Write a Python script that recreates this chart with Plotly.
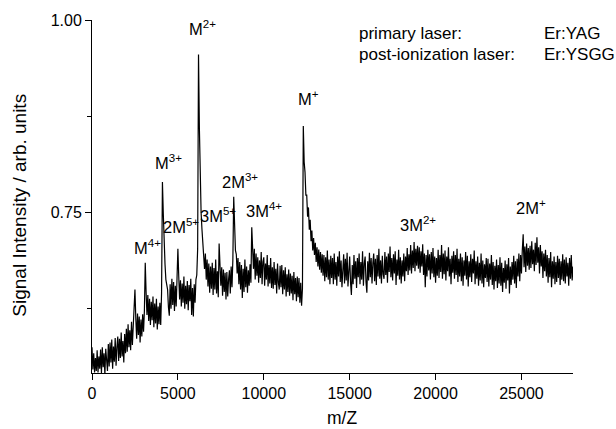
import plotly.graph_objects as go

# m/Z sampling: start and step of the spectrum
mz_start = 0
mz_step = 50

# Signal intensity (arb. units), one value every 50 m/Z from 0 to 28000
intensity = [
    0.574, 0.545, 0.566, 0.541, 0.560, 0.543, 0.570, 0.541, 0.562, 0.546,   # 0
    0.571, 0.540, 0.574, 0.548, 0.566, 0.538, 0.572, 0.551, 0.543, 0.578,   # 500
    0.549, 0.580, 0.554, 0.584, 0.546, 0.575, 0.555, 0.586, 0.550, 0.574,   # 1000
    0.588, 0.556, 0.585, 0.560, 0.593, 0.562, 0.582, 0.554, 0.591, 0.566,   # 1500
    0.598, 0.568, 0.604, 0.574, 0.596, 0.570, 0.607, 0.577, 0.602, 0.632,   # 2000
    0.649, 0.611, 0.585, 0.618, 0.590, 0.614, 0.580, 0.610, 0.588, 0.617,   # 2500
    0.594, 0.621, 0.684, 0.645, 0.616, 0.642, 0.608, 0.637, 0.603, 0.633,   # 3000
    0.609, 0.640, 0.600, 0.631, 0.605, 0.637, 0.597, 0.627, 0.604, 0.632,   # 3500
    0.603, 0.645, 0.789, 0.748, 0.700, 0.682, 0.662, 0.654, 0.649, 0.626,   # 4000
    0.615, 0.656, 0.624, 0.663, 0.629, 0.659, 0.621, 0.654, 0.627, 0.664,   # 4500
    0.702, 0.666, 0.636, 0.661, 0.627, 0.657, 0.632, 0.666, 0.624, 0.654,   # 5000
    0.630, 0.660, 0.622, 0.655, 0.634, 0.663, 0.616, 0.651, 0.614, 0.656,   # 5500
    0.632, 0.662, 0.668, 0.702, 0.955, 0.860, 0.790, 0.750, 0.728, 0.705,   # 6000
    0.700, 0.676, 0.696, 0.662, 0.688, 0.653, 0.683, 0.645, 0.679, 0.650,   # 6500
    0.684, 0.642, 0.677, 0.649, 0.688, 0.644, 0.673, 0.639, 0.709, 0.682,   # 7000
    0.654, 0.678, 0.641, 0.675, 0.646, 0.671, 0.636, 0.672, 0.640, 0.662,   # 7500
    0.674, 0.644, 0.679, 0.652, 0.688, 0.770, 0.732, 0.700, 0.695, 0.670,   # 8000
    0.690, 0.656, 0.685, 0.649, 0.681, 0.638, 0.676, 0.646, 0.688, 0.652,   # 8500
    0.679, 0.645, 0.674, 0.654, 0.682, 0.658, 0.730, 0.700, 0.676, 0.702,   # 9000
    0.662, 0.696, 0.667, 0.691, 0.658, 0.687, 0.664, 0.698, 0.656, 0.685,   # 9500
    0.691, 0.654, 0.683, 0.662, 0.694, 0.653, 0.681, 0.657, 0.690, 0.651,   # 10000
    0.678, 0.650, 0.685, 0.655, 0.676, 0.644, 0.683, 0.658, 0.649, 0.680,   # 10500
    0.652, 0.681, 0.643, 0.674, 0.649, 0.678, 0.640, 0.669, 0.646, 0.675,   # 11000
    0.641, 0.670, 0.644, 0.667, 0.635, 0.672, 0.643, 0.664, 0.634, 0.666,   # 11500
    0.639, 0.664, 0.632, 0.658, 0.628, 0.650, 0.862, 0.815, 0.802, 0.772,   # 12000
    0.772, 0.744, 0.756, 0.727, 0.740, 0.712, 0.726, 0.700, 0.716, 0.694,   # 12500
    0.710, 0.685, 0.704, 0.679, 0.701, 0.675, 0.698, 0.671, 0.695, 0.667,   # 13000
    0.694, 0.660, 0.691, 0.665, 0.700, 0.662, 0.688, 0.656, 0.693, 0.664,   # 13500
    0.690, 0.656, 0.696, 0.662, 0.685, 0.654, 0.692, 0.666, 0.699, 0.659,   # 14000
    0.687, 0.652, 0.682, 0.695, 0.657, 0.689, 0.661, 0.697, 0.653, 0.684,   # 14500
    0.692, 0.658, 0.642, 0.681, 0.656, 0.694, 0.663, 0.686, 0.651, 0.690,   # 15000
    0.665, 0.696, 0.656, 0.685, 0.662, 0.699, 0.654, 0.683, 0.692, 0.659,   # 15500
    0.645, 0.686, 0.661, 0.697, 0.665, 0.690, 0.657, 0.684, 0.696, 0.660,   # 16000
    0.689, 0.655, 0.694, 0.666, 0.702, 0.663, 0.687, 0.657, 0.693, 0.669,   # 16500
    0.663, 0.698, 0.668, 0.692, 0.658, 0.696, 0.672, 0.705, 0.665, 0.690,   # 17000
    0.661, 0.695, 0.670, 0.699, 0.655, 0.688, 0.667, 0.701, 0.662, 0.691,   # 17500
    0.657, 0.687, 0.666, 0.696, 0.660, 0.692, 0.673, 0.703, 0.668, 0.695,   # 18000
    0.674, 0.707, 0.670, 0.700, 0.677, 0.711, 0.673, 0.702, 0.680, 0.706,   # 18500
    0.676, 0.704, 0.671, 0.699, 0.679, 0.708, 0.668, 0.696, 0.652, 0.694,   # 19000
    0.666, 0.701, 0.674, 0.695, 0.662, 0.698, 0.670, 0.703, 0.665, 0.692,   # 19500
    0.658, 0.690, 0.667, 0.701, 0.664, 0.694, 0.672, 0.707, 0.663, 0.696,   # 20000
    0.669, 0.700, 0.661, 0.692, 0.673, 0.704, 0.666, 0.689, 0.656, 0.693,   # 20500
    0.671, 0.699, 0.663, 0.694, 0.668, 0.702, 0.659, 0.689, 0.666, 0.696,   # 21000
    0.660, 0.691, 0.654, 0.687, 0.667, 0.698, 0.662, 0.693, 0.653, 0.686,   # 21500
    0.665, 0.695, 0.659, 0.689, 0.670, 0.700, 0.656, 0.686, 0.663, 0.692,   # 22000
    0.654, 0.684, 0.661, 0.696, 0.657, 0.687, 0.652, 0.682, 0.664, 0.690,   # 22500
    0.659, 0.689, 0.653, 0.683, 0.662, 0.694, 0.655, 0.685, 0.649, 0.680,   # 23000
    0.660, 0.688, 0.651, 0.681, 0.657, 0.691, 0.654, 0.684, 0.646, 0.677,   # 23500
    0.658, 0.687, 0.650, 0.682, 0.661, 0.690, 0.644, 0.679, 0.655, 0.685,   # 24000
    0.662, 0.693, 0.657, 0.686, 0.651, 0.689, 0.666, 0.696, 0.660, 0.694,   # 24500
    0.670, 0.701, 0.721, 0.678, 0.705, 0.672, 0.709, 0.680, 0.703, 0.675,   # 25000
    0.706, 0.677, 0.712, 0.682, 0.701, 0.673, 0.710, 0.681, 0.717, 0.684,   # 25500
    0.704, 0.670, 0.707, 0.679, 0.699, 0.664, 0.696, 0.673, 0.701, 0.666,   # 26000
    0.694, 0.658, 0.690, 0.665, 0.698, 0.652, 0.686, 0.663, 0.692, 0.656,   # 26500
    0.685, 0.659, 0.693, 0.664, 0.689, 0.655, 0.686, 0.662, 0.695, 0.660,   # 27000
    0.688, 0.657, 0.691, 0.666, 0.684, 0.654, 0.690, 0.663, 0.694, 0.661,   # 27500
    0.679,                                                                  # 28000
]

# Peak labels and their positions (m/Z, intensity)
peak_labels = ["M<sup>4+</sup>", "M<sup>3+</sup>", "2M<sup>5+</sup>", "M<sup>2+</sup>",
               "3M<sup>5+</sup>", "2M<sup>3+</sup>", "3M<sup>4+</sup>", "M<sup>+</sup>",
               "3M<sup>2+</sup>", "2M<sup>+</sup>"]
peak_label_mz = [3250, 4470, 5170, 6450, 7320, 8600, 10000, 12610, 18950, 25580]
peak_label_y = [0.705, 0.815, 0.732, 0.990, 0.746, 0.791, 0.752, 0.898, 0.734, 0.756]

info_labels = ["primary laser:", "post-ionization laser:"]
info_values = ["Er:YAG", "Er:YSGG"]

x_ticks = [0, 5000, 10000, 15000, 20000, 25000]
y_ticks = [0.75, 1.00]
y_minor_ticks = [0.625, 0.875]

x_title = "m/Z"
y_title = "Signal Intensity / arb. units"

FONT = "Liberation Sans, Arial, sans-serif"

fig = go.Figure()
fig.add_trace(go.Scatter(
    x0=mz_start, dx=mz_step, y=intensity,
    mode="lines", line=dict(color="black", width=1.2),
    showlegend=False,
))

for t, xm, ym in zip(peak_labels, peak_label_mz, peak_label_y):
    fig.add_annotation(x=xm, y=ym, text=t, showarrow=False,
                       xanchor="center", yanchor="middle",
                       font=dict(family=FONT, size=16.5, color="black"))

for i, (lab, val) in enumerate(zip(info_labels, info_values)):
    yy = 0.982 - i * 0.027
    fig.add_annotation(x=15400, y=yy, text=lab, showarrow=False,
                       xanchor="left", yanchor="middle",
                       font=dict(family=FONT, size=17, color="black"))
    fig.add_annotation(x=26220, y=yy, text=val, showarrow=False,
                       xanchor="left", yanchor="middle",
                       font=dict(family=FONT, size=17, color="black"))

# axis titles
fig.add_annotation(xref="paper", yref="paper", x=0.52, y=-0.128, text=x_title,
                   showarrow=False, xanchor="center", yanchor="middle",
                   font=dict(family=FONT, size=17.5, color="black"))
fig.add_annotation(xref="paper", yref="paper", x=-0.151, y=0.475, text=y_title,
                   textangle=-90, showarrow=False, xanchor="center", yanchor="middle",
                   font=dict(family=FONT, size=19, color="black"))

fig.update_layout(
    width=616, height=429,
    margin=dict(l=92, r=43, t=20, b=56),
    plot_bgcolor="white", paper_bgcolor="white",
    font=dict(family=FONT, size=16, color="black"),
    xaxis=dict(
        range=[0, 28000], tickvals=x_ticks, ticktext=[str(v) for v in x_ticks],
        ticks="outside", ticklen=6, tickwidth=1, tickcolor="black",
        showline=True, linecolor="black", linewidth=1, mirror=False,
        showgrid=False, zeroline=False,
        tickfont=dict(family=FONT, size=16),
    ),
    yaxis=dict(
        range=[0.5404, 1.0], tickvals=y_ticks, tickformat=".2f",
        ticks="outside", ticklen=6, tickwidth=1, tickcolor="black",
        minor=dict(tickvals=y_minor_ticks, ticks="outside", ticklen=4, tickcolor="black"),
        showline=True, linecolor="black", linewidth=1, mirror=False,
        showgrid=False, zeroline=False,
        tickfont=dict(family=FONT, size=16),
    ),
)

fig.write_html("out.html")
